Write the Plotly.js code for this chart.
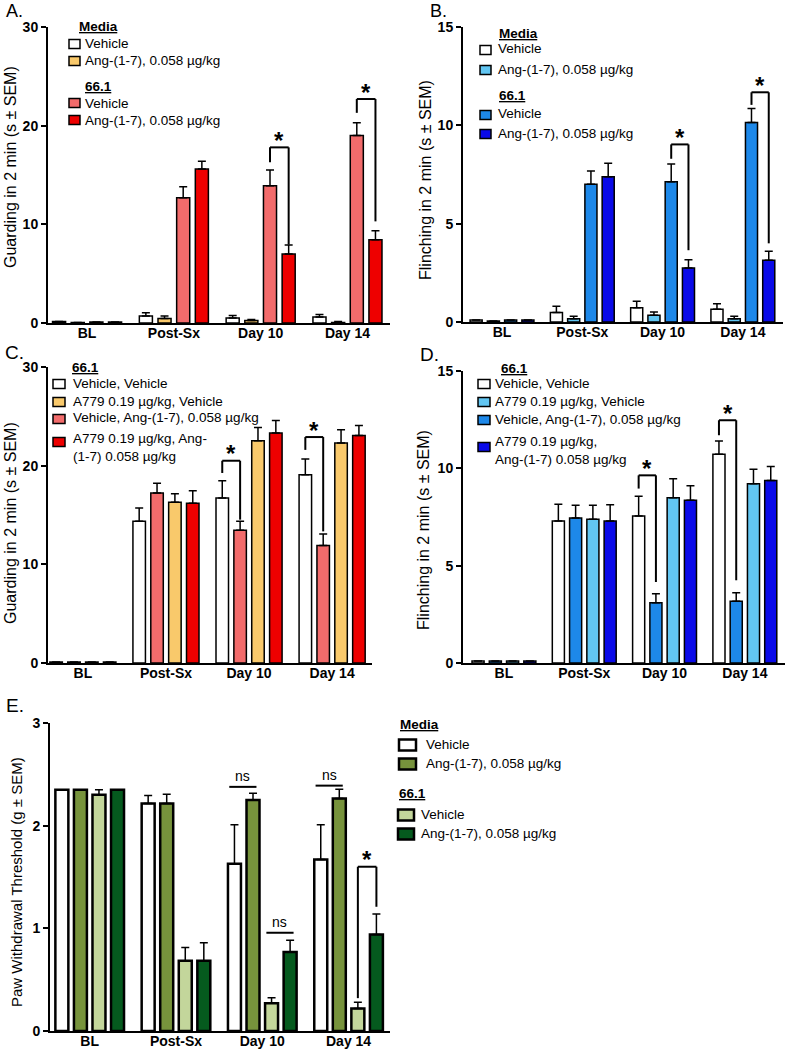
<!DOCTYPE html>
<html><head><meta charset="utf-8">
<script src="https://cdn.plot.ly/plotly-3.0.1.min.js"></script>
<style>html,body{margin:0;padding:0;background:#fff}#chart{width:786px;height:1050px}</style>
</head><body><div id="chart"></div>
<script>
// ---------- DATA ----------
const categories = ['BL', 'Post-Sx', 'Day 10', 'Day 14'];

// Panel A – Guarding (Media / 66.1)
const aMediaVehicle    = [0.15, 0.70, 0.50, 0.60];
const aMediaVehicleErr = [0, 0.35, 0.25, 0.25];
const aMediaAng        = [0.05, 0.45, 0.25, 0.05];
const aMediaAngErr     = [0, 0.25, 0.10, 0.10];
const a661Vehicle      = [0.10, 12.7, 13.9, 19.0];
const a661VehicleErr   = [0, 1.1, 1.6, 1.3];
const a661Ang          = [0.10, 15.6, 7.0, 8.45];
const a661AngErr       = [0, 0.8, 0.9, 0.9];

// Panel B – Flinching (Media / 66.1)
const bMediaVehicle    = [0.10, 0.48, 0.73, 0.65];
const bMediaVehicleErr = [0, 0.32, 0.32, 0.28];
const bMediaAng        = [0.05, 0.17, 0.34, 0.17];
const bMediaAngErr     = [0, 0.12, 0.17, 0.12];
const b661Vehicle      = [0.10, 7.0, 7.13, 10.14];
const b661VehicleErr   = [0, 0.68, 0.90, 0.71];
const b661Ang          = [0.10, 7.39, 2.75, 3.14];
const b661AngErr       = [0, 0.68, 0.42, 0.46];

// Panel C – Guarding, 66.1 with A779
const cVehVeh     = [0.10, 14.36, 16.72, 19.09];
const cVehVehErr  = [0, 1.35, 1.76, 1.59];
const cVehAng     = [0.10, 17.23, 13.45, 11.9];
const cVehAngErr  = [0, 1.0, 0.91, 1.18];
const cA779Veh    = [0.10, 16.28, 22.53, 22.3];
const cA779VehErr = [0, 0.88, 1.35, 1.35];
const cA779Ang    = [0.10, 16.2, 23.3, 23.07];
const cA779AngErr = [0, 1.25, 1.28, 1.01];

// Panel D – Flinching, 66.1 with A779
const dVehVeh     = [0.10, 7.29, 7.55, 10.72];
const dVehVehErr  = [0, 0.86, 1.01, 0.68];
const dVehAng     = [0.10, 7.45, 3.10, 3.17];
const dVehAngErr  = [0, 0.65, 0.46, 0.44];
const dA779Veh    = [0.10, 7.38, 8.49, 9.21];
const dA779VehErr = [0, 0.72, 0.98, 0.74];
const dA779Ang    = [0.10, 7.29, 8.36, 9.38];
const dA779AngErr = [0, 0.84, 0.74, 0.72];

// Panel E – Paw withdrawal threshold
const eMediaVehicle    = [2.35, 2.215, 1.63, 1.67];
const eMediaVehicleErr = [0, 0.08, 0.38, 0.34];
const eMediaAng        = [2.35, 2.215, 2.25, 2.264];
const eMediaAngErr     = [0, 0.09, 0.065, 0.09];
const e661Vehicle      = [2.30, 0.684, 0.27, 0.22];
const e661VehicleErr   = [0.05, 0.13, 0.055, 0.06];
const e661Ang          = [2.35, 0.684, 0.77, 0.94];
const e661AngErr       = [0, 0.175, 0.115, 0.20];

// Labels
const mediaLabel = 'Media';
const cellLabel = '66.1';
const vehicleLabel = 'Vehicle';
const angLabel = 'Ang-(1-7), 0.058 µg/kg';
const cLabels = ['Vehicle, Vehicle', 'A779 0.19 µg/kg, Vehicle', 'Vehicle, Ang-(1-7), 0.058 µg/kg', 'A779 0.19 µg/kg, Ang-<br>(1-7) 0.058 µg/kg'];
const dLabels = ['Vehicle, Vehicle', 'A779 0.19 µg/kg, Vehicle', 'Vehicle, Ang-(1-7), 0.058 µg/kg', 'A779 0.19 µg/kg,<br>Ang-(1-7) 0.058 µg/kg'];
const yTitleGuard = 'Guarding in 2 min (s ± SEM)';
const yTitleFlinch = 'Flinching in 2 min (s ± SEM)';
const yTitlePaw = 'Paw Withdrawal Threshold (g ± SEM)';

// ---------- STYLE ----------
const FONT = 'Liberation Sans, Arial, sans-serif';
const BARGAP = 0.14, BARGROUPGAP = 0.3;
const W = 786, H = 1050;
const px = x => x / W;
const py = y => 1 - y / H;

const colWhite = '#FFFFFF', colYellow = '#F9C96B', colSalmon = '#F26B6B', colRed = '#EE0000';
const colLtBlue = '#62C6F2', colBlue = '#1D88E9', colDkBlue = '#0A0AE8';
const colOlive = '#77933C', colLtGreen = '#C3D69B', colDkGreen = '#055A1E';

function bar(xa, ya, y, err, color, lw) {
  return {
    type: 'bar', x: categories, y: y, xaxis: xa, yaxis: ya, showlegend: false,
    marker: { color: color, line: { color: '#000', width: lw } },
    error_y: { type: 'data', symmetric: false, array: err, arrayminus: err.map(() => 0),
               color: '#000', thickness: 1.5, width: 4 },
    hoverinfo: 'skip'
  };
}

const traces = [
  bar('x', 'y', aMediaVehicle, aMediaVehicleErr, colWhite, 1.5),
  bar('x', 'y', aMediaAng, aMediaAngErr, colYellow, 1.5),
  bar('x', 'y', a661Vehicle, a661VehicleErr, colSalmon, 1.5),
  bar('x', 'y', a661Ang, a661AngErr, colRed, 1.5),

  bar('x2', 'y2', bMediaVehicle, bMediaVehicleErr, colWhite, 1.5),
  bar('x2', 'y2', bMediaAng, bMediaAngErr, colLtBlue, 1.5),
  bar('x2', 'y2', b661Vehicle, b661VehicleErr, colBlue, 1.5),
  bar('x2', 'y2', b661Ang, b661AngErr, colDkBlue, 1.5),

  bar('x3', 'y3', cVehVeh, cVehVehErr, colWhite, 1.5),
  bar('x3', 'y3', cVehAng, cVehAngErr, colSalmon, 1.5),
  bar('x3', 'y3', cA779Veh, cA779VehErr, colYellow, 1.5),
  bar('x3', 'y3', cA779Ang, cA779AngErr, colRed, 1.5),

  bar('x4', 'y4', dVehVeh, dVehVehErr, colWhite, 1.5),
  bar('x4', 'y4', dVehAng, dVehAngErr, colBlue, 1.5),
  bar('x4', 'y4', dA779Veh, dA779VehErr, colLtBlue, 1.5),
  bar('x4', 'y4', dA779Ang, dA779AngErr, colDkBlue, 1.5),

  bar('x5', 'y5', eMediaVehicle, eMediaVehicleErr, colWhite, 2.5),
  bar('x5', 'y5', eMediaAng, eMediaAngErr, colOlive, 2.5),
  bar('x5', 'y5', e661Vehicle, e661VehicleErr, colLtGreen, 2.5),
  bar('x5', 'y5', e661Ang, e661AngErr, colDkGreen, 2.5)
];

function xax(domain, range, anchor) {
  return { domain: domain, range: range, autorange: false, type: 'category', categoryarray: categories,
    anchor: anchor, showline: true, linecolor: '#000', linewidth: 2, ticks: '', showgrid: false,
    zeroline: false, ticklabelstandoff: -4,
    tickfont: { family: FONT, size: 14, weight: 'bold', color: '#000' } };
}
function yax(domain, range, dtick, anchor) {
  return { domain: domain, range: range, autorange: false, dtick: dtick, anchor: anchor,
    showline: true, linecolor: '#000', linewidth: 2, ticks: 'outside', ticklen: 5, tickwidth: 2,
    tickcolor: '#000', showgrid: false, zeroline: false,
    tickfont: { family: FONT, size: 14, weight: 'bold', color: '#000' } };
}

const shapes = [];
const annotations = [];

function center(cat, i) {
  const gw = 1 - BARGAP;
  return cat - gw / 2 + (i + 0.5) * gw / 4;
}
function line(xr, yr, x0, y0, x1, y1, w) {
  shapes.push({ type: 'line', xref: xr, yref: yr, x0: x0, y0: y0, x1: x1, y1: y1,
                line: { color: '#000', width: w || 2 } });
}
function bracket(xr, yr, cat, i, j, top, leftBot, rightBot) {
  const xl = center(cat, i), xrr = center(cat, j);
  line(xr, yr, xl, leftBot, xl, top);
  line(xr, yr, xl, top, xrr, top);
  line(xr, yr, xrr, top, xrr, rightBot);
  annotations.push({ xref: xr, yref: yr, x: (xl + xrr) / 2, y: top, text: '<b>*</b>', showarrow: false,
    yanchor: 'middle', yshift: 7, font: { family: FONT, size: 24, color: '#000' } });
}
function nsLine(xr, yr, cat, i, j, yv) {
  const x0 = center(cat, i) - 0.06, x1 = center(cat, j) + 0.04;
  line(xr, yr, x0, yv, x1, yv);
  annotations.push({ xref: xr, yref: yr, x: (x0 + x1) / 2, y: yv, text: 'ns', showarrow: false,
    yanchor: 'bottom', yshift: 1, font: { family: FONT, size: 14, color: '#000' } });
}

// Significance markers
bracket('x', 'y', 2, 2, 3, 17.8, 16.3, 7.95);
bracket('x', 'y', 3, 2, 3, 22.7, 21.3, 10.3);
bracket('x2', 'y2', 2, 2, 3, 9.03, 8.3, 3.65);
bracket('x2', 'y2', 3, 2, 3, 11.68, 11.04, 4.0);
bracket('x3', 'y3', 2, 0, 1, 20.5, 19.26, 14.53);
bracket('x3', 'y3', 3, 0, 1, 22.9, 21.6, 13.34);
bracket('x4', 'y4', 2, 0, 1, 9.64, 8.96, 4.16);
bracket('x4', 'y4', 3, 0, 1, 12.47, 11.7, 4.25);
bracket('x5', 'y5', 3, 2, 3, 1.6, 0.32, 1.21);
nsLine('x5', 'y5', 2, 0, 1, 2.378);
nsLine('x5', 'y5', 3, 0, 1, 2.39);
nsLine('x5', 'y5', 2, 2, 3, 0.957);

// Manual legends
function legHeader(x, y, text, size) {
  annotations.push({ xref: 'paper', yref: 'paper', x: px(x), y: py(y), xanchor: 'left', yanchor: 'middle',
    text: '<b><u>' + text + '</u></b>', showarrow: false, font: { family: FONT, size: size, color: '#000' } });
}
function legItem(bx0, bx1, bh, yBox, tx, yText, text, color, lw, size) {
  shapes.push({ type: 'rect', xref: 'paper', yref: 'paper', x0: px(bx0), x1: px(bx1),
    y0: py(yBox + bh / 2), y1: py(yBox - bh / 2), fillcolor: color, line: { color: '#000', width: lw } });
  annotations.push({ xref: 'paper', yref: 'paper', x: px(tx), y: py(yText), xanchor: 'left', yanchor: 'middle',
    align: 'left', text: text, showarrow: false, font: { family: FONT, size: size, color: '#000' } });
}
// A
legHeader(77, 26, mediaLabel, 13.5);
legItem(69, 80, 9, 44, 83, 44, vehicleLabel, colWhite, 1.5, 13.5);
legItem(69, 80, 9, 61, 83, 61, angLabel, colYellow, 1.5, 13.5);
legHeader(83, 86, cellLabel, 13.5);
legItem(69, 80, 9, 103, 83, 103, vehicleLabel, colSalmon, 1.5, 13.5);
legItem(69, 80, 9, 120, 83, 120, angLabel, colRed, 1.5, 13.5);
// B
legHeader(497, 33, mediaLabel, 13.5);
legItem(480, 491, 9, 50, 496, 49, vehicleLabel, colWhite, 1.5, 13.5);
legItem(480, 491, 9, 70, 496, 69, angLabel, colLtBlue, 1.5, 13.5);
legHeader(497, 95, cellLabel, 13.5);
legItem(480, 491, 9, 115, 496, 114, vehicleLabel, colBlue, 1.5, 13.5);
legItem(480, 491, 9, 134, 496, 133, angLabel, colDkBlue, 1.5, 13.5);
// C
legHeader(70, 367, cellLabel, 13.5);
legItem(53, 65, 9, 384, 71, 383, cLabels[0], colWhite, 1.5, 13.5);
legItem(53, 65, 9, 402, 71, 401, cLabels[1], colYellow, 1.5, 13.5);
legItem(53, 65, 9, 419, 71, 418, cLabels[2], colSalmon, 1.5, 13.5);
legItem(53, 65, 9, 442, 71, 447, cLabels[3], colRed, 1.5, 13.5);
// D
legHeader(499, 368, cellLabel, 13.5);
legItem(478, 490, 9, 384, 493, 383, dLabels[0], colWhite, 1.5, 13.5);
legItem(478, 490, 9, 402, 493, 401, dLabels[1], colLtBlue, 1.5, 13.5);
legItem(478, 490, 9, 420, 493, 419, dLabels[2], colBlue, 1.5, 13.5);
legItem(478, 490, 9, 447, 493, 450, dLabels[3], colDkBlue, 1.5, 13.5);
// E
legHeader(398, 724, mediaLabel, 13.5);
legItem(399, 416, 11, 745, 424, 744, vehicleLabel, colWhite, 2.5, 13.5);
legItem(399, 416, 11, 764, 424, 763, angLabel, colOlive, 2.5, 13.5);
legHeader(397, 793, cellLabel, 13.5);
legItem(398, 414, 11, 815, 419, 814, vehicleLabel, colLtGreen, 2.5, 13.5);
legItem(398, 414, 11, 834, 419, 833, angLabel, colDkGreen, 2.5, 13.5);

// Panel letters and axis titles
function txt(x, y, text, size, angle, anchorX, anchorY) {
  annotations.push({ xref: 'paper', yref: 'paper', x: px(x), y: py(y), xanchor: anchorX || 'center',
    yanchor: anchorY || 'middle', borderpad: 0,
    text: text, showarrow: false, textangle: angle || 0, font: { family: FONT, size: size, color: '#000' } });
}
txt(5, 0, 'A.', 18, 0, 'left', 'top');
txt(429, 0, 'B.', 18, 0, 'left', 'top');
txt(4, 352, 'C.', 19, 0, 'left');
txt(419, 354, 'D.', 19, 0, 'left');
txt(5, 705, 'E.', 19, 0, 'left');
txt(10, 167, yTitleGuard, 16, -90);
txt(425, 180, yTitleFlinch, 16, -90);
txt(10, 523, yTitleGuard, 16, -90);
txt(423, 530, yTitleFlinch, 16, -90);
txt(16, 882, yTitlePaw, 15, -90);

const layout = {
  width: W, height: H, margin: { l: 0, r: 0, t: 0, b: 0 },
  paper_bgcolor: '#fff', plot_bgcolor: 'rgba(0,0,0,0)',
  barmode: 'group', bargap: BARGAP, bargroupgap: BARGROUPGAP, showlegend: false,
  font: { family: FONT, color: '#000' },
  xaxis:  xax([px(48), px(390)], [-0.45, 3.49], 'y'),
  yaxis:  yax([py(323), py(27)], [0, 30], 10, 'x'),
  xaxis2: xax([px(463), px(783)], [-0.486, 3.5], 'y2'),
  yaxis2: yax([py(322), py(27)], [0, 15], 5, 'x2'),
  xaxis3: xax([px(48), px(372)], [-0.42, 3.48], 'y3'),
  yaxis3: yax([py(663), py(367)], [0, 30], 10, 'x3'),
  xaxis4: xax([px(463), px(785)], [-0.51, 3.5], 'y4'),
  yaxis4: yax([py(663), py(371)], [0, 15], 5, 'x4'),
  xaxis5: xax([px(50), px(390)], [-0.46, 3.48], 'y5'),
  yaxis5: yax([py(1031), py(723)], [0, 3], 1, 'x5'),
  shapes: shapes, annotations: annotations
};

Plotly.newPlot('chart', traces, layout, { staticPlot: true, displayModeBar: false });
</script></body></html>
